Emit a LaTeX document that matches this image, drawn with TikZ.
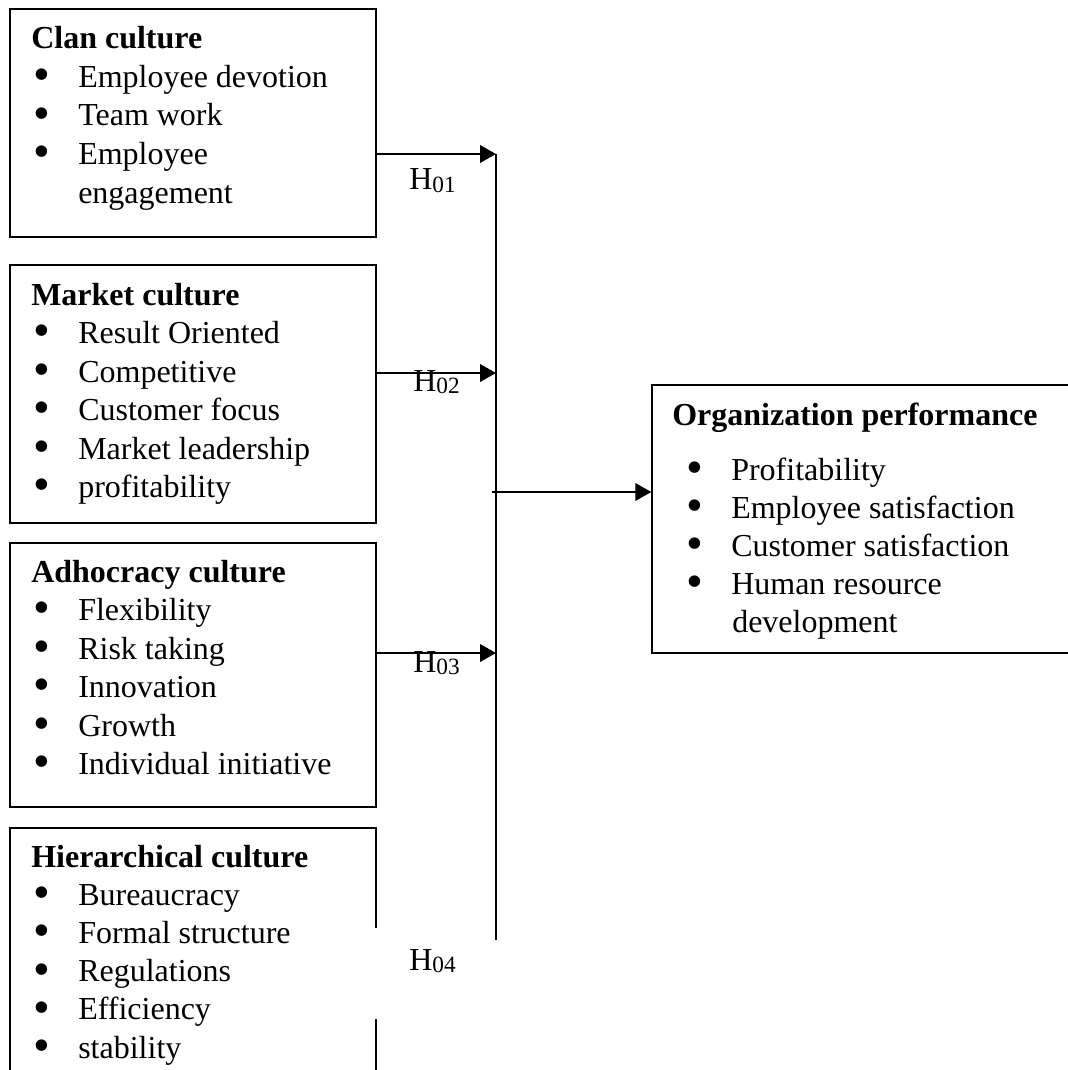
\documentclass[tikz,border=0pt]{standalone}
\usepackage{fontspec}
\setmainfont{Liberation Serif}
\usetikzlibrary{arrows.meta,fit}
\newcommand\bul[1]{\makebox[33.75pt][l]{\smash{\raisebox{-2.6pt}{\scalebox{1.5}{\textbullet}}}}#1}
\newcommand\hsub[1]{H\raisebox{-2.2pt}{\fontsize{17.5}{20}\selectfont #1}}
\begin{document}
\begin{tikzpicture}[x=0.75pt,y=-0.75pt,
  box/.style={draw, line width=0.95pt, inner sep=0pt},
  hd/.style={anchor=base west, inner sep=0pt, font=\fontsize{24}{28}\selectfont\bfseries},
  it/.style={anchor=base west, inner sep=0pt, font=\fontsize{24}{28}\selectfont},
  hl/.style={anchor=base west, inner sep=0pt, font=\fontsize{24}{28}\selectfont},
  arr/.style={line width=2pt, -{Triangle[length=12pt,width=13pt]}},
  vl/.style={line width=1.5pt}]
\useasboundingbox (0,0) rectangle (1067,1070);
\fill[white] (0,0) rectangle (1067,1070);
% boxes
\node[box, fit={(10,9) (376,237)}] (b1) {};
\node[box, fit={(10,265) (376,523)}] (b2) {};
\node[box, fit={(10,543) (376,807)}] (b3) {};
\node[box, fit={(10,828) (376,1095)}] (b4) {};
\node[box, fit={(652,385) (1095,653)}] (org) {};
% box 1
\node[hd] (t1) at (31,49) {Clan culture};
\foreach \s [count=\i] in {Employee devotion, Team work, Employee}
  \node[it] (c1\i) at (33,{49+38.5*\i}) {\bul{\s}};
\node[it] (c14) at (78,203) {engagement};
% box 2
\node[hd] (t2) at (31,305) {Market culture};
\foreach \s [count=\i] in {Result Oriented, Competitive, Customer focus, Market leadership, profitability}
  \node[it] (c2\i) at (33,{305+38.5*\i}) {\bul{\s}};
% box 3
\node[hd] (t3) at (31,582) {Adhocracy culture};
\foreach \s [count=\i] in {Flexibility, Risk taking, Innovation, Growth, Individual initiative}
  \node[it] (c3\i) at (33,{582+38.5*\i}) {\bul{\s}};
% box 4
\node[hd] (t4) at (31,867) {Hierarchical culture};
\foreach \s [count=\i] in {Bureaucracy, Formal structure, Regulations, Efficiency, stability}
  \node[it] (c4\i) at (33,{867+38.2*\i}) {\bul{\s}};
% organization box
\node[hd] (t5) at (672,425) {Organization performance};
\foreach \s [count=\i] in {Profitability, Employee satisfaction, Customer satisfaction, Human resource}
  \node[it] (o\i) at (686,{442+38*\i}) {\bul{\s}};
\node[it] (o5) at (732,632) {development};
% connectors
\coordinate (v1) at (496,154);
\coordinate (v2) at (496,373);
\coordinate (vm) at (496,492);
\coordinate (v3) at (496,653);
\coordinate (vb) at (496,940);
\draw[vl] (v1) -- (vb);
\draw[arr] (b1.east |- v1) -- (v1);
\draw[arr] (b2.east |- v2) -- (v2);
\draw[arr] (b3.east |- v3) -- (v3);
\draw[arr] ([xshift=-3]vm) -- (org.west |- vm);
% labels
\node[hl] (h1) at (409,190) {\hsub{01}};
\node[hl] (h2) at (413,391) {\hsub{02}};
\node[hl] (h3) at (413,672) {\hsub{03}};
\node[fill=white, inner sep=0pt, fit={(372,928) (488,1019)}] (h4bg) {};
\node[hl] (h4) at (409,970) {\hsub{04}};
\end{tikzpicture}
\end{document}
